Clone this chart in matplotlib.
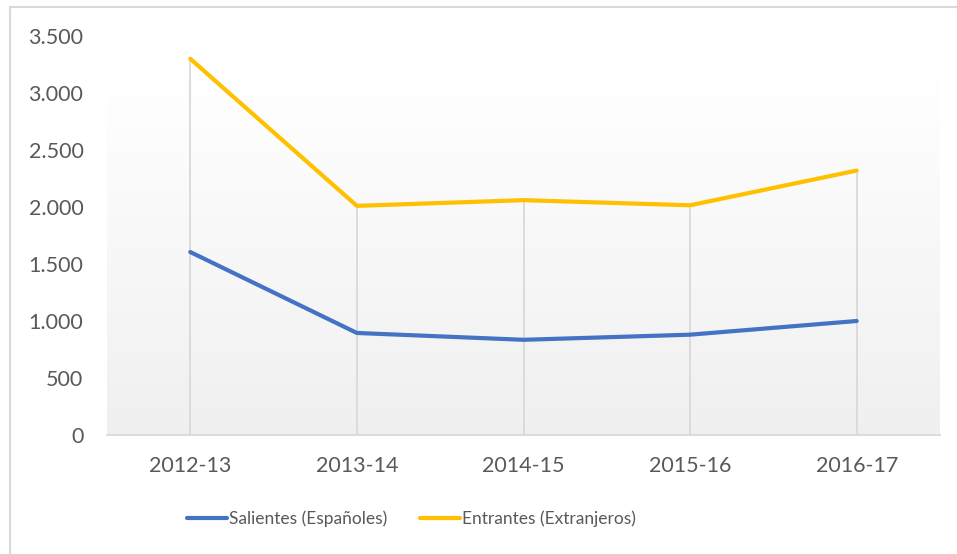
import numpy as np
import matplotlib.pyplot as plt
from matplotlib.lines import Line2D
from matplotlib.ticker import FuncFormatter

# data
cursos = ["2012-13", "2013-14", "2014-15", "2015-16", "2016-17"]
salientes = [1605, 895, 835, 880, 1000]
entrantes = [3300, 2010, 2060, 2015, 2320]
etiquetas = ["Salientes (Españoles)", "Entrantes (Extranjeros)"]

AZUL = "#4472C4"
AMARILLO = "#FFC000"
GRIS_TEXTO = "#595959"
GRIS_LINEA = "#D9D9D9"

plt.rcParams["font.family"] = ["Lato", "DejaVu Sans"]

fig = plt.figure(figsize=(9.57, 5.54), dpi=100)
W, H = 957, 554
ax = fig.add_axes([107 / W, 1 - 435 / H, (940 - 107) / W, (435 - 36) / H])

x = np.arange(len(cursos))

# gradient background: white at the top, light gray at the bottom
t = np.linspace(0, 1, 256)[:, None, None]
top_col = np.array([1.0, 1.0, 1.0])
bot_col = np.array([0.94, 0.94, 0.94])
grad = top_col + (bot_col - top_col) * t
ax.imshow(grad, extent=[-0.5, 4.5, 0, 3120], aspect="auto", zorder=0,
          interpolation="bilinear")

# drop lines from the highest point down to the axis
tops = np.maximum(salientes, entrantes)
ax.vlines(x, 0, tops, color=GRIS_LINEA, lw=1.3, zorder=1)

ax.plot(x, salientes, color=AZUL, lw=3, solid_capstyle="round", zorder=3)
ax.plot(x, entrantes, color=AMARILLO, lw=3, solid_capstyle="round", zorder=3)

ax.set_xlim(-0.5, 4.5)
ax.set_ylim(0, 3500)
ax.set_yticks(np.arange(0, 3501, 500))
ax.yaxis.set_major_formatter(FuncFormatter(lambda v, p: f"{int(v):,}".replace(",", ".")))
ax.set_xticks(x)
ax.set_xticklabels(cursos)

for s in ["top", "right", "left"]:
    ax.spines[s].set_visible(False)
ax.spines["bottom"].set_color(GRIS_LINEA)
ax.spines["bottom"].set_linewidth(1.3)
ax.tick_params(axis="both", length=0, labelsize=15.5, colors=GRIS_TEXTO)
ax.tick_params(axis="x", pad=15)
ax.tick_params(axis="y", pad=17)
ax.set_facecolor("white")

handles = [Line2D([], [], color=AZUL, lw=3, solid_capstyle="round"),
           Line2D([], [], color=AMARILLO, lw=3, solid_capstyle="round")]
fig.legend(handles, etiquetas, loc="center left", bbox_to_anchor=(187 / W, 1 - 519 / H),
           ncol=2, frameon=False, fontsize=12.5, handlelength=2.3, handletextpad=0.12,
           columnspacing=1.9, borderpad=0, borderaxespad=0, labelcolor=GRIS_TEXTO)

# outer chart border (only left and top visible in the reference)
fig.add_artist(Line2D([9.5 / W, 9.5 / W], [0, 1 - 6.5 / H], color=GRIS_LINEA, lw=1.5))
fig.add_artist(Line2D([9.5 / W, 1], [1 - 6.5 / H, 1 - 6.5 / H], color=GRIS_LINEA, lw=1.5))

fig.savefig("out.png", dpi=100)
